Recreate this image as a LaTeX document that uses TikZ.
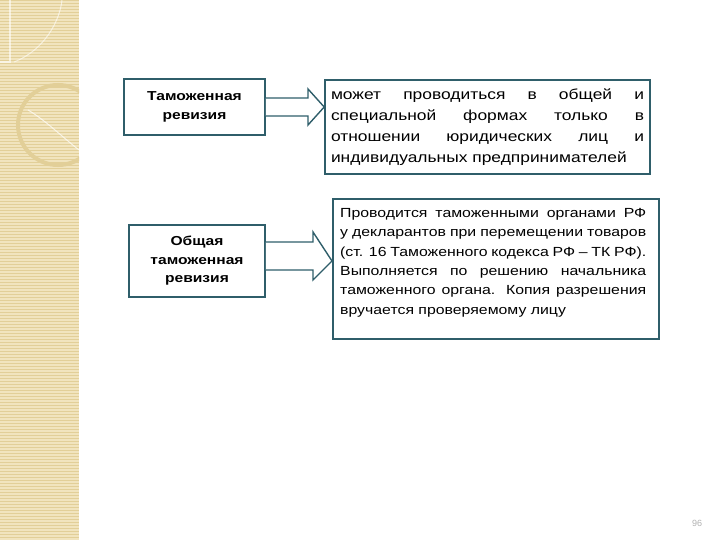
\documentclass[tikz,border=0pt]{standalone}
\usepackage{fontspec}
\setmainfont{Liberation Sans}
\newfontfamily\widefont[FakeStretch=1.2]{Liberation Sans}
\definecolor{bd}{HTML}{2F5E6A}
\definecolor{strip}{HTML}{F1E4BE}
\definecolor{stripc}{HTML}{E2CF98}
\begin{document}
\begin{tikzpicture}[x=1pt,y=-1pt,
  lbox/.style={draw=bd,line width=1.6pt,align=center,font=\widefont\bfseries\fontsize{13}{18.5}\selectfont,inner sep=0pt},
  rbox/.style={draw=bd,line width=1.6pt,align=justify,inner sep=0pt},
  barrow/.style={draw=bd,line width=1.4pt,fill=white}]
\useasboundingbox (0,0) rectangle (720,540);
\fill[white] (0,0) rectangle (720,540);
\fill[strip] (0,0) rectangle (79,540);
\foreach \y in {0,3,...,540} \draw[stripc,line width=0.5pt] (0,\y) -- (79,\y);
\begin{scope}
\clip (0,0) rectangle (79,540);
\draw[stripc,line width=4pt] (58,125) circle (40);
\draw[white,line width=1pt,opacity=0.7] (28,110) .. controls (45,120) and (60,135) .. (79,150);
\draw[white,line width=1.2pt,opacity=0.6] (0,62) -- (10,62) -- (10,0);
\draw[white,line width=1pt,opacity=0.6] (14,62) .. controls (45,50) and (60,20) .. (62,0);
\end{scope}
\node[lbox,minimum width=141,minimum height=56] (a) at (194.5,107) {Таможенная\\ревизия};
\node[lbox,minimum width=136,minimum height=72] (b) at (197,261) {Общая\\таможенная\\ревизия};
\node[rbox,text width=313,font=\widefont\fontsize{14.5}{21}\selectfont,minimum width=325,minimum height=94] (c) at (487.5,127) {может проводиться в общей и специальной формах только в отношении юридических лиц и индивидуальных предпринимателей};
\node[rbox,minimum width=326,minimum height=140,anchor=north west] (d) at (332,198) {};
\node[text width=306,align=justify,font=\widefont\fontsize{13.2}{19.4}\selectfont,inner sep=0pt,anchor=north west] (dt) at (340,208) {Проводится таможенными органами РФ у декларантов при перемещении товаров (ст. 16 Таможенного кодекса РФ – ТК РФ). Выполняется по решению начальника таможенного органа. Копия разрешения вручается проверяемому лицу};
\draw[barrow] (a.east|-0,98) -- (308,98) -- (308,89) -- (c.west|-0,107) -- (308,125) -- (308,116) -- (a.east|-0,116);
\draw[barrow] (b.east|-0,242) -- (313,242) -- (313,232) -- (d.west|-0,261) -- (313,280) -- (313,270) -- (b.east|-0,270);
\node[text=gray!60,font=\fontsize{9}{10}\selectfont] (n) at (697,523) {96};
\end{tikzpicture}
\end{document}
